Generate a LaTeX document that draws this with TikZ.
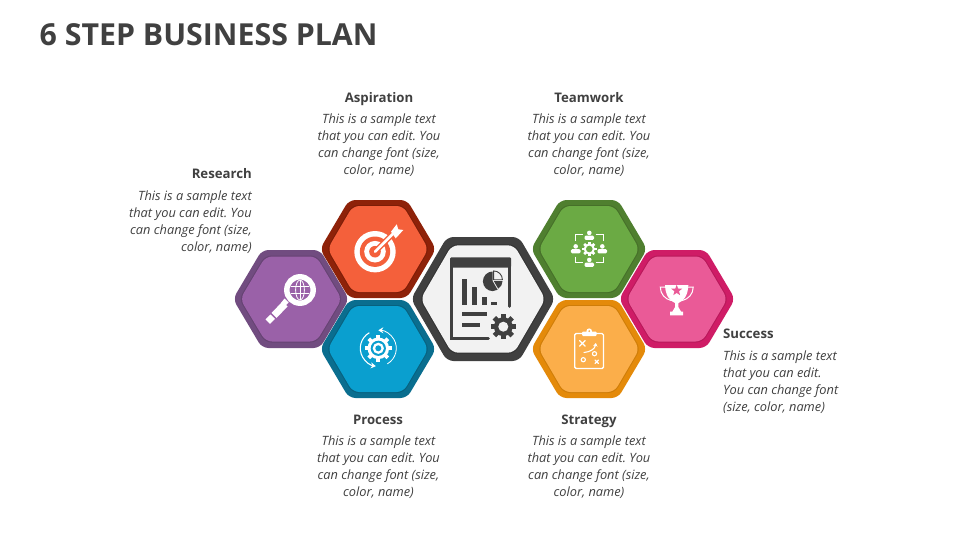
\documentclass[tikz,border=0pt]{standalone}
\usepackage{fontspec}
\setmainfont{Open Sans}
\usetikzlibrary{shapes.geometric,arrows.meta}
\definecolor{ink}{HTML}{404040}
\definecolor{purO}{HTML}{714C80}\definecolor{purS}{HTML}{664373}\definecolor{purI}{HTML}{9A61A8}
\definecolor{redO}{HTML}{8E2209}\definecolor{redS}{HTML}{7D1D07}\definecolor{redI}{HTML}{F4603B}
\definecolor{bluO}{HTML}{0A6E8F}\definecolor{bluS}{HTML}{08617E}\definecolor{bluI}{HTML}{0A9FCF}
\definecolor{grnO}{HTML}{4F7F2F}\definecolor{grnS}{HTML}{467029}\definecolor{grnI}{HTML}{6BAA44}
\definecolor{yelO}{HTML}{E48A0A}\definecolor{yelS}{HTML}{CF7D08}\definecolor{yelI}{HTML}{FBAE4A}
\definecolor{pnkO}{HTML}{CF1C66}\definecolor{pnkS}{HTML}{B8185A}\definecolor{pnkI}{HTML}{EA5A97}
\definecolor{drkO}{HTML}{404040}\definecolor{drkS}{HTML}{333333}\definecolor{drkI}{HTML}{F2F2F2}
\tikzset{
  headtext/.style={font=\fontsize{13.2}{16}\selectfont\bfseries,text=ink,inner sep=0pt},
  bodytext/.style={font=\fontsize{12.8}{17}\selectfont\itshape\frenchspacing,text=ink,inner sep=0pt},
  whitestroke/.style={draw=white,line cap=round,line join=round},
}
% hw hh colour
\newcommand\hexfill[3]{%
  \pgfmathsetmacro\hexW{#1}\pgfmathsetmacro\hexQ{(#1)/2}\pgfmathsetmacro\hexH{#2}%
  \fill[#3,rounded corners=6.5] (-\hexW,0)--(-\hexQ,-\hexH)--(\hexQ,-\hexH)--(\hexW,0)--(\hexQ,\hexH)--(-\hexQ,\hexH)--cycle;}
% cx cy hwO hhO hwI hhI colour-prefix
\newcommand\hexcell[7]{\begin{scope}[shift={(#1,#2)}]
  \hexfill{#3}{#4}{#7O}
  \hexfill{#5+1.2}{#6+1}{#7S}
  \hexfill{#5}{#6}{#7I}
\end{scope}}
% cx cy Rout Rbody Rhole teeth toothw colour bg
\newcommand\gearicon[9]{\begin{scope}[shift={(#1,#2)}]
  \pgfmathsetmacro\gearstep{360/#6}
  \foreach \k in {1,...,#6}{\fill[#8,rotate=\k*\gearstep] (-#7/2,0) rectangle (#7/2,#3);}
  \fill[#8] (0,0) circle (#4);
  \fill[#9] (0,0) circle (#5);
\end{scope}}
\newcommand\personicon[2]{\begin{scope}[shift={(#1,#2)}]
  \fill[white] (0,-2.6) circle (2.3);
  \fill[white,rounded corners=1.2] (-4.8,4.3) -- (-4.8,0.2) -- (4.8,0.2) -- (4.8,4.3) -- cycle;
\end{scope}}
\begin{document}
\begin{tikzpicture}[x=1pt,y=-1pt]
\useasboundingbox (0,0) rectangle (960,540);
\fill[white] (0,0) rectangle (960,540);
\node[anchor=base west,inner sep=0pt,text=ink,font=\fontsize{30.3}{36}\selectfont\bfseries] (title) at (39.5,45.5) {6 STEP BUSINESS PLAN};

% hexagons
\hexcell{291}{299}{58}{49}{50.8}{42.5}{pur}
\hexcell{378}{249}{58}{49}{50.4}{43}{red}
\hexcell{378}{349}{58}{49}{50.4}{43}{blu}
\hexcell{483}{299}{72}{62}{62.4}{53.7}{drk}
\hexcell{589}{249}{58}{49}{50.4}{43}{grn}
\hexcell{589}{349}{58}{49}{50.4}{43}{yel}
\hexcell{677}{299}{58}{49}{50.4}{42.5}{pnk}

% research icon
\begin{scope}[shift={(300,290)}]
  \draw[white,line width=5.5] (0,0) circle (13.2);
  \begin{scope}
    \clip (0,0) circle (10);
    \draw[white,line width=.8] (0,0) ellipse (4.4 and 10);
    \draw[white,line width=.8] (0,-10) -- (0,10);
    \draw[white,line width=.8] (-10,-3.2) -- (10,-3.2);
    \draw[white,line width=.8] (-10,3.2) -- (10,3.2);
  \end{scope}
\end{scope}
\fill[white] (288.5,302.5) -- (284.5,298.5) -- (281,303) -- (285,306) -- cycle;
\fill[white] (282.5,301.5) -- (287.5,306.5) -- (276.5,318) -- (271.5,313) -- cycle;
\fill[white] (270.5,314.5) -- (275,319) -- (270,323.8) -- (265.5,319.3) -- cycle;

% target icon
\begin{scope}[shift={(375,251.7)}]
  \fill[white] (0,0) circle (20.7);
  \fill[redI] (0,0) circle (15.2);
  \fill[white] (0,0) circle (10.8);
  \fill[redI] (0,0) circle (5.8);
  \draw[redI,line width=5.5] (0,0) -- (17,-17);
  \draw[white,line width=2.6,line cap=round] (0,0) -- (20,-20);
\end{scope}
\fill[white] (391,231.7) -- (396.7,224.3) -- (398.3,229.3) -- (403.3,230) -- (395.7,238.3) -- cycle;

% process icon
\gearicon{378.3}{348.3}{13.5}{10.8}{7.6}{8}{3.8}{white}{bluI}
\fill[white] (378.3,348.3) circle (5.6);
\fill[bluI] (378.3,348.3) circle (3);
\begin{scope}[shift={(378.3,348.3)}]
  \draw[white,line width=1.1,-{Stealth[length=5pt,width=6pt]}] (-120:18) arc (-120:-262:18);
  \draw[white,line width=.8,-{Stealth[length=5pt,width=6pt]}] (-300:18) arc (-300:-450:18) ;
\end{scope}

% teamwork icon
\gearicon{589.3}{249}{7.2}{5.6}{3.3}{8}{2.6}{white}{grnI}
\personicon{589.3}{235.5}
\personicon{575.7}{249}
\personicon{602.3}{249}
\personicon{589.3}{262.5}
\draw[white,line width=.8] (575,241) -- (575,234.3) -- (583,234.3);
\draw[white,line width=.8] (595.5,234.3) -- (603,234.3) -- (603,241);
\draw[white,line width=.8] (575,256.5) -- (575,262) -- (583,262);
\draw[white,line width=.8] (595.5,262) -- (603,262) -- (603,256.5);

% strategy icon
\draw[white,line width=1.4,rounded corners=1.5] (574.7,333.5) rectangle (603.5,368.5);
\fill[white,rounded corners=1] (582,331.5) rectangle (596.5,336);
\fill[white] (589.2,331.2) circle (2.8);
\fill[yelI] (589.2,331.2) circle (1);
\draw[whitestroke,line width=1.2] (579.5,340.5) -- (585.2,346.2) (585.2,340.5) -- (579.5,346.2);
\draw[whitestroke,line width=1.1,-{Stealth[length=3.5pt,width=4.5pt]}] (584,352.5) .. controls (590,352) and (595,349) .. (595.8,343);
\draw[white,line width=1.1] (594.5,353.7) circle (2.1);
\draw[white,line width=1.1] (583.3,359.7) circle (2.1);
\draw[whitestroke,line width=1.2] (595,360) -- (598.4,363.4) (598.4,360) -- (595,363.4);

% success icon
\fill[white] (665,285) -- (688.3,285) .. controls (688,295) and (684,301) .. (678.5,303) -- (678.3,307) -- (681,311.5) -- (683.2,311.5) -- (683.2,315.3) -- (670.2,315.3) -- (670.2,311.5) -- (672.4,311.5) -- (675.1,307) -- (675,303) .. controls (669.5,301) and (665.3,295) .. (665,285) -- cycle;
\draw[white,line width=1,line cap=round] (665.5,287.2) -- (660.3,287.2) .. controls (660.3,294) and (665,299) .. (671,300.5);
\draw[white,line width=1,line cap=round] (687.9,287.2) -- (693.2,287.2) .. controls (693.2,294) and (688.4,299) .. (682.4,300.5);
\node[star,star points=5,star point ratio=2.4,fill=pnkI,minimum size=11.5pt,inner sep=0pt] (trophystar) at (676.7,290.5) {};

% central document icon
\fill[ink,rounded corners=1.2] (450,257.3) rectangle (511,267.5);
\draw[ink,line width=2.6,line cap=round] (451.3,260) -- (451.3,338.7) -- (488.5,338.7);
\draw[ink,line width=2.6,line cap=round] (509.7,260) -- (509.7,306.5);
\fill[ink] (461.7,279.3) rectangle (467.3,305);
\fill[ink] (471.7,287.3) rectangle (477.3,305);
\fill[ink] (481.7,297.3) rectangle (487.3,305);
\fill[ink] (491,301.7) rectangle (496.7,305);
\fill[ink] (461.7,312) rectangle (487.3,316);
\fill[ink] (461.7,323.3) rectangle (480,327.3);
\begin{scope}[shift={(492.7,281.3)}]
  \fill[ink] (0,0) -- (-90:9.8) arc (-90:-300:9.8) -- cycle;
  \draw[ink,line width=.9,line join=round] (.9,-1.6) -- (.9,-10.4) arc (-90:0:8.8) -- cycle;
  \fill[ink] (1.2,-.1) -- (9.8,-.1) arc (0:60:8.6) -- cycle;
\end{scope}
\gearicon{503.3}{326.7}{12.6}{9.4}{5}{8}{4.8}{ink}{drkI}

% labels
\node[headtext,anchor=base] (aspH) at (379,102.7) {Aspiration};
\node[bodytext,align=center] (aspT) at (379,145) {This is a sample text\\that you can edit. You\\can change font (size,\\color, name)};
\node[headtext,anchor=base] (teamH) at (589,102.7) {Teamwork};
\node[bodytext,align=center] (teamT) at (589,145) {This is a sample text\\that you can edit. You\\can change font (size,\\color, name)};
\node[headtext,anchor=base east] (resH) at (252,178.7) {Research};
\node[bodytext,align=right,anchor=east] (resT) at (252,222.5) {This is a sample text\\that you can edit. You\\can change font (size,\\color, name)};
\node[headtext,anchor=base] (procH) at (378,424) {Process};
\node[bodytext,align=center] (procT) at (378.5,467) {This is a sample text\\that you can edit. You\\can change font (size,\\color, name)};
\node[headtext,anchor=base] (stratH) at (589,424) {Strategy};
\node[bodytext,align=center] (stratT) at (589,467) {This is a sample text\\that you can edit. You\\can change font (size,\\color, name)};
\node[headtext,anchor=base west] (sucH) at (723,338) {Success};
\node[bodytext,align=left,anchor=west] (sucT) at (723,382.5) {This is a sample text\\that you can edit.\\You can change font\\(size, color, name)};
\end{tikzpicture}
\end{document}
